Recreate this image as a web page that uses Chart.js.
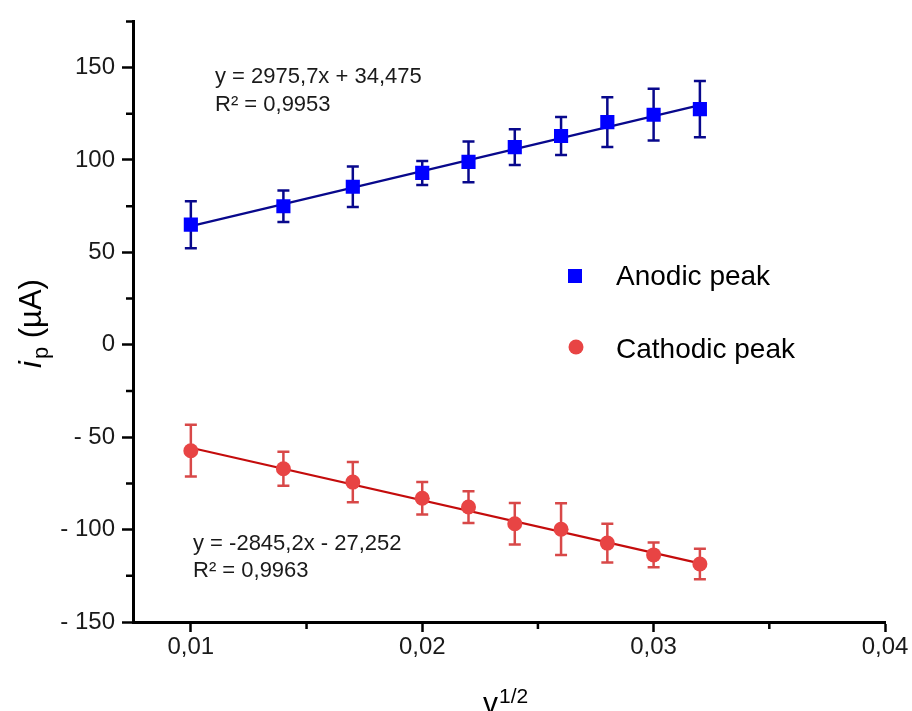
<!DOCTYPE html>
<html>
<head>
<meta charset="utf-8">
<script src="https://cdn.jsdelivr.net/npm/chart.js@4.4.1/dist/chart.umd.min.js"></script>
<style>
  html, body { margin: 0; padding: 0; background: #fff; }
  #wrap { width: 912px; height: 711px; }
</style>
</head>
<body>
<div id="wrap"><canvas id="chart" width="912" height="711"></canvas></div>
<script>
// dados
const xValues = [0.010, 0.014, 0.017, 0.020, 0.022, 0.024, 0.026, 0.028, 0.030, 0.032];
const anodic = [65, 75, 85.5, 93, 99, 107, 113, 120.5, 124.5, 127.5];
const anodicErr = [12.7, 8.5, 11, 6.5, 11, 9.7, 10.3, 13.5, 14, 15.2];
const cathodic = [-57.3, -67.1, -74.3, -83, -87.8, -96.8, -99.8, -107.3, -113.7, -118.6];
const cathodicErr = [14, 9.2, 10.9, 8.8, 8.6, 11.2, 14, 10.5, 6.7, 8.2];

const fitX = [0.010, 0.032];
const anodicFit = [64.2, 129.7];
const cathodicFit = [-55.7, -118.3];

const xTicks = [0.01, 0.02, 0.03, 0.04];
const xMinor = [0.015, 0.025, 0.035];
const yTicks = [-150, -100, -50, 0, 50, 100, 150];
const yMinor = [-125, -75, -25, 25, 75, 125, 175];

const anodicEq = ['y = 2975,7x + 34,475', 'R\u00B2 = 0,9953'];
const cathodicEq = ['y = -2845,2x - 27,252', 'R\u00B2 = 0,9963'];
const legendLabels = ['Anodic peak', 'Cathodic peak'];

const FONT = "'Liberation Sans', Arial, sans-serif";
const BLUE = '#0000ff';
const BLUE_DARK = '#08088c';
const RED = '#e84444';
const RED_DARK = '#c40c0c';
const RED_ERR = '#d84848';

const pts = (xs, ys) => xs.map((x, i) => ({ x: x, y: ys[i] }));

// barras de erro, ticks menores, textos e legenda
const extras = {
    id: 'extras',
    beforeDatasetsDraw(chart) {
        const ctx = chart.ctx;
        const xs = chart.scales.x, ys = chart.scales.y;
        chart.data.datasets.forEach(ds => {
            if (!ds.errors) return;
            ctx.save();
            ctx.strokeStyle = ds.errorColor;
            ctx.lineWidth = 2.5;
            ds.data.forEach((p, i) => {
                const px = xs.getPixelForValue(p.x);
                const top = ys.getPixelForValue(p.y + ds.errors[i]);
                const bot = ys.getPixelForValue(p.y - ds.errors[i]);
                ctx.beginPath();
                ctx.moveTo(px, top); ctx.lineTo(px, bot);
                ctx.moveTo(px - 6, top); ctx.lineTo(px + 6, top);
                ctx.moveTo(px - 6, bot); ctx.lineTo(px + 6, bot);
                ctx.stroke();
            });
            ctx.restore();
        });
    },
    afterDraw(chart) {
        const ctx = chart.ctx;
        const xs = chart.scales.x, ys = chart.scales.y;
        const area = chart.chartArea;
        ctx.save();
        ctx.strokeStyle = '#000';
        ctx.lineWidth = 2.5;
        ctx.beginPath();
        xMinor.forEach(v => {
            const px = xs.getPixelForValue(v);
            ctx.moveTo(px, area.bottom); ctx.lineTo(px, area.bottom + 7);
        });
        yMinor.forEach(v => {
            const py = ys.getPixelForValue(v);
            ctx.moveTo(area.left, py); ctx.lineTo(area.left - 7, py);
        });
        ctx.stroke();

        // equações
        ctx.fillStyle = '#1a1a1a';
        ctx.font = '22px ' + FONT;
        ctx.textAlign = 'left';
        ctx.textBaseline = 'alphabetic';
        ctx.fillText(anodicEq[0], 215, 83);
        ctx.fillText(anodicEq[1], 215, 111);
        ctx.fillText(cathodicEq[0], 193, 550);
        ctx.fillText(cathodicEq[1], 193, 577);

        // legenda
        ctx.fillStyle = BLUE;
        ctx.fillRect(568, 269, 14, 14);
        ctx.fillStyle = RED;
        ctx.beginPath();
        ctx.arc(576, 347, 7.5, 0, Math.PI * 2);
        ctx.fill();
        ctx.fillStyle = '#000';
        ctx.font = '28px ' + FONT;
        ctx.fillText(legendLabels[0], 616, 285);
        ctx.fillText(legendLabels[1], 616, 358);

        // título eixo y: i_p (µA)
        ctx.save();
        ctx.translate(41, 368);
        ctx.rotate(-Math.PI / 2);
        ctx.font = 'italic 31px ' + FONT;
        ctx.fillText('i', 0, 0);
        let w = ctx.measureText('i').width + 2;
        ctx.font = '22px ' + FONT;
        ctx.fillText('p', w, 7);
        w += ctx.measureText('p').width;
        ctx.font = '31px ' + FONT;
        ctx.fillText(' (\u00B5A)', w, 0);
        ctx.restore();

        // título eixo x: v^1/2
        ctx.font = '30px ' + FONT;
        ctx.fillText('v', 483, 713);
        const vw = ctx.measureText('v').width;
        ctx.font = '21px ' + FONT;
        ctx.fillText('1/2', 483 + vw + 1, 703);
        ctx.restore();
    }
};

new Chart(document.getElementById('chart'), {
    type: 'scatter',
    data: {
        datasets: [
            {
                label: legendLabels[0],
                data: pts(xValues, anodic),
                errors: anodicErr,
                errorColor: BLUE_DARK,
                pointStyle: 'rect',
                pointRadius: 10,
                backgroundColor: BLUE,
                borderColor: BLUE,
                borderWidth: 0
            },
            {
                label: legendLabels[1],
                data: pts(xValues, cathodic),
                errors: cathodicErr,
                errorColor: RED_ERR,
                pointStyle: 'circle',
                pointRadius: 7.5,
                backgroundColor: RED,
                borderColor: RED,
                borderWidth: 0
            },
            {
                label: 'fit anodic',
                data: pts(fitX, anodicFit),
                showLine: true,
                borderColor: BLUE_DARK,
                borderWidth: 2.2,
                pointRadius: 0
            },
            {
                label: 'fit cathodic',
                data: pts(fitX, cathodicFit),
                showLine: true,
                borderColor: RED_DARK,
                borderWidth: 2.2,
                pointRadius: 0
            }
        ]
    },
    options: {
        responsive: false,
        animation: false,
        devicePixelRatio: 1,
        events: [],
        layout: { padding: { top: 16, right: 27, left: 0, bottom: 0 } },
        plugins: { legend: { display: false }, tooltip: { enabled: false } },
        scales: {
            x: {
                type: 'linear',
                min: 0.0075,
                max: 0.04,
                afterBuildTicks: s => { s.ticks = xTicks.map(v => ({ value: v })); },
                afterFit: s => { s.height = 89; },
                border: { display: true, color: '#000', width: 3 },
                grid: { display: true, drawOnChartArea: false, drawTicks: true, tickLength: 10, tickWidth: 2.5, tickColor: '#000' },
                ticks: {
                    padding: 1,
                    color: '#1a1a1a',
                    font: { family: FONT, size: 24 },
                    callback: v => v.toFixed(2).replace('.', ',')
                }
            },
            y: {
                type: 'linear',
                min: -150,
                max: 175,
                afterBuildTicks: s => { s.ticks = yTicks.map(v => ({ value: v })); },
                afterFit: s => { s.width = 133; },
                border: { display: true, color: '#000', width: 3 },
                grid: { display: true, drawOnChartArea: false, drawTicks: true, tickLength: 11, tickWidth: 2.5, tickColor: '#000' },
                ticks: {
                    padding: 7,
                    color: '#1a1a1a',
                    font: { family: FONT, size: 24 },
                    callback: v => v < 0 ? '- ' + Math.abs(v) : String(v)
                }
            }
        }
    },
    plugins: [extras]
});
</script>
</body>
</html>
